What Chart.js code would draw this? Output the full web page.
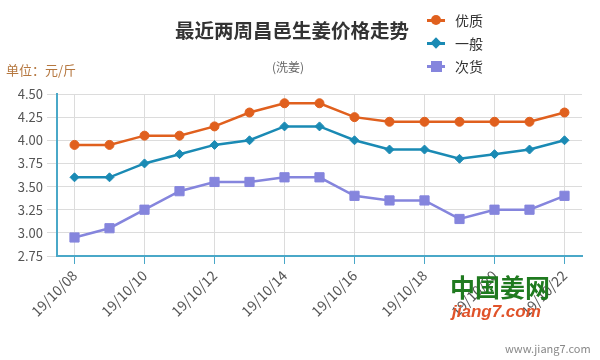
<!DOCTYPE html>
<html>
<head>
<meta charset="utf-8">
<script src="https://cdn.jsdelivr.net/npm/chart.js@4"></script>
<style>
  body { margin: 0; background: #fff; font-family: "Noto Sans CJK SC", sans-serif; }
  #wrap { position: relative; width: 600px; height: 360px; }
  #title { position: absolute; left: 175px; top: 17px; font-size: 19.5px; font-weight: bold; color: #333; line-height: 26px; }
  #sub { position: absolute; left: 272px; top: 58px; font-size: 12px; color: #666; }
  #unit { position: absolute; left: 6px; top: 60px; font-size: 13px; color: #b5773f; }
  .lg { position: absolute; left: 427px; height: 20px; font-size: 14px; color: #333; }
  .lg .ln { position: absolute; left: 0; top: 9px; width: 18px; height: 3px; }
  .lg .mk { position: absolute; }
  .lg span { position: absolute; left: 28px; top: 0; line-height: 20px; white-space: nowrap; }
  #logo1 { position: absolute; left: 450px; top: 268px; font-size: 25px; font-weight: bold; color: #1f7a1f; }
  #logo2 { position: absolute; left: 452px; top: 302px; font-size: 17px; font-weight: bold; font-style: italic; color: #e0532a; font-family: "Liberation Sans", sans-serif; }
  #www { position: absolute; left: 505px; top: 340px; font-size: 11px; color: #888; }
</style>
</head>
<body>
<div id="wrap">
  <canvas id="myChart" width="600" height="360"></canvas>
  <div id="title">最近两周昌邑生姜价格走势</div>
  <div id="sub">(洗姜)</div>
  <div id="unit">单位：元/斤</div>
  <div class="lg" style="top:10px"><div class="ln" style="background:#e0601e"></div><div class="mk" style="left:4px;top:5px;width:10px;height:10px;border-radius:5px;background:#e0601e"></div><span>优质</span></div>
  <div class="lg" style="top:33px"><div class="ln" style="background:#1a8ab4"></div><div class="mk" style="left:5px;top:6px;width:8px;height:8px;transform:rotate(45deg);background:#1a8ab4"></div><span>一般</span></div>
  <div class="lg" style="top:56px"><div class="ln" style="background:#8585dd"></div><div class="mk" style="left:4px;top:5px;width:11px;height:11px;background:#8585dd"></div><span>次货</span></div>
  <div id="logo1">中国姜网</div>
  <div id="logo2">jiang7.com</div>
  <div id="www">www.jiang7.com</div>
</div>
<script>
// 日期和价格数据
const labels = ['19/10/08', '19/10/09', '19/10/10', '19/10/11', '19/10/12', '19/10/13', '19/10/14', '19/10/15',
                '19/10/16', '19/10/17', '19/10/18', '19/10/19', '19/10/20', '19/10/21', '19/10/22'];
const youzhi = [3.95, 3.95, 4.05, 4.05, 4.15, 4.30, 4.40, 4.40, 4.25, 4.20, 4.20, 4.20, 4.20, 4.20, 4.30];
const yiban = [3.60, 3.60, 3.75, 3.85, 3.95, 4.00, 4.15, 4.15, 4.00, 3.90, 3.90, 3.80, 3.85, 3.90, 4.00];
const cihuo = [2.95, 3.05, 3.25, 3.45, 3.55, 3.55, 3.60, 3.60, 3.40, 3.35, 3.35, 3.15, 3.25, 3.25, 3.40];
const yTicks = [2.75, 3.00, 3.25, 3.50, 3.75, 4.00, 4.25, 4.50];

const font = { family: '"Noto Sans CJK SC", sans-serif', size: 13 };
const axisColor = '#4aa8c8';
const gridColor = '#dcdcdc';

const ctx = document.getElementById('myChart').getContext('2d');
const myChart = new Chart(ctx, {
  type: 'line',
  data: {
    labels: labels,
    datasets: [
      { label: '优质', data: youzhi, borderColor: '#e0601e', backgroundColor: '#e0601e',
        pointStyle: 'circle', pointRadius: 4.5, pointBorderWidth: 1, borderWidth: 2.5 },
      { label: '一般', data: yiban, borderColor: '#1a8ab4', backgroundColor: '#1a8ab4',
        pointStyle: 'rectRot', pointRadius: 4.5, pointBorderWidth: 1, borderWidth: 2.5 },
      { label: '次货', data: cihuo, borderColor: '#8585dd', backgroundColor: '#8585dd',
        pointStyle: 'rect', pointRadius: 6.5, pointBorderWidth: 1, borderWidth: 2.5 }
    ]
  },
  options: {
    responsive: false,
    animation: false,
    layout: { padding: { top: 94, right: 18, left: 0, bottom: 0 } },
    plugins: { legend: { display: false }, title: { display: false }, tooltip: { enabled: false } },
    scales: {
      x: {
        offset: true,
        grid: {
          offset: false,
          color: (c) => (c.index % 2 === 0 ? gridColor : 'rgba(0,0,0,0)'),
          tickColor: (c) => (c.index % 2 === 0 ? axisColor : 'rgba(0,0,0,0)'),
          tickLength: 8
        },
        border: { color: axisColor, width: 2 },
        ticks: {
          autoSkip: false,
          maxRotation: 45, minRotation: 45,
          color: '#555', font: { family: font.family, size: 14 },
          callback: function (v, i) { return i % 2 === 0 ? labels[i] : ''; }
        },
        afterFit: (s) => { s.height = 104; }
      },
      y: {
        min: 2.75, max: 4.5,
        grid: { color: gridColor, tickLength: 10 },
        border: { color: axisColor, width: 2 },
        afterBuildTicks: (s) => { s.ticks = yTicks.map(v => ({ value: v })); },
        ticks: { color: '#555', font: font, padding: 4, callback: (v) => v.toFixed(2) },
        afterFit: (s) => { s.width = 57; }
      }
    }
  }
});
</script>
</body>
</html>
